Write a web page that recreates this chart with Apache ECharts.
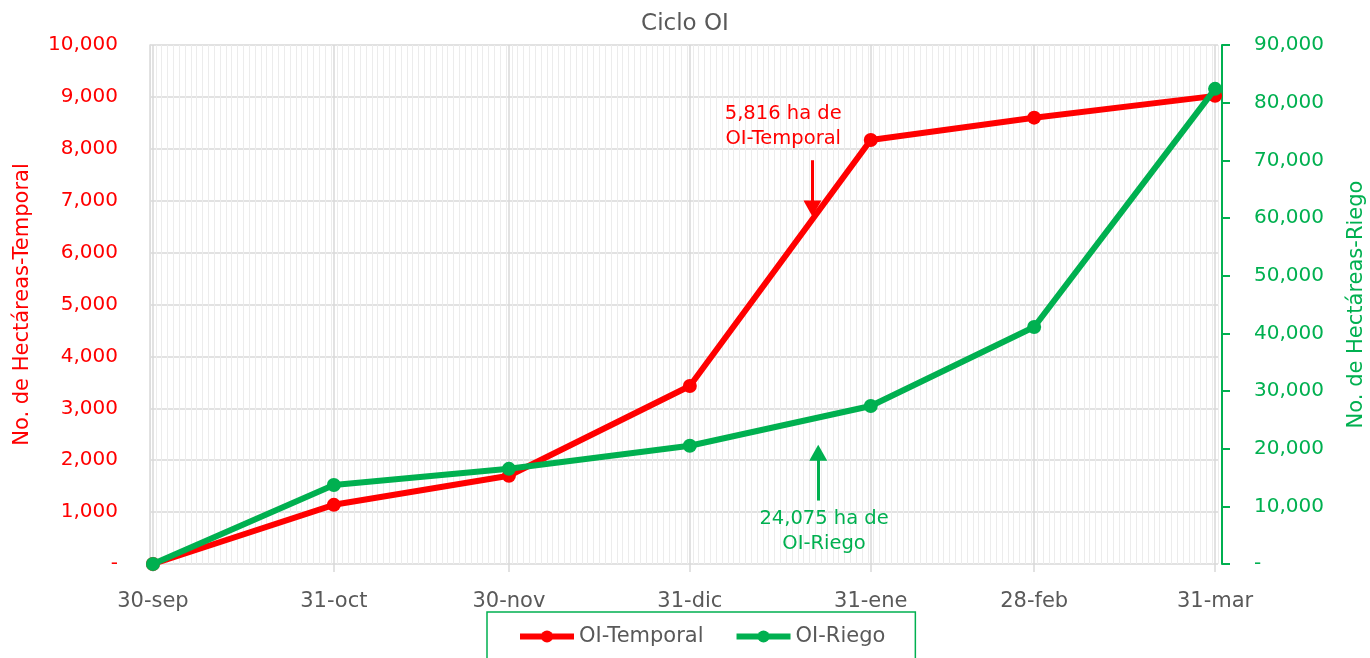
<!DOCTYPE html>
<html>
<head>
<meta charset="utf-8">
<script src="https://cdn.jsdelivr.net/npm/echarts@6/dist/echarts.min.js"></script>
<style>html,body{margin:0;padding:0;background:#fff}#c{width:1370px;height:658px}</style>
</head>
<body>
<div id="c"></div>
<script>
// Data
const categories = ['30-sep', '31-oct', '30-nov', '31-dic', '31-ene', '28-feb', '31-mar'];
const dayOffsets = [0, 31, 61, 92, 123, 151, 182];
const temporal = [0, 1140, 1700, 3430, 8170, 8600, 9020];
const riego = [0, 13700, 16500, 20500, 27400, 41100, 82400];
const leftTicks = { min: 0, max: 10000, interval: 1000 };
const rightTicks = { min: 0, max: 90000, interval: 10000 };
const noteTemporal = '5,816 ha de\nOI-Temporal';
const noteRiego = '24,075 ha de\nOI-Riego';

const RED = '#FF0000', GREEN = '#00B050', GRAY = '#595959';
const FONT = 'DejaVu Sans';
const fmt = v => v === 0 ? '-' : v.toLocaleString('en-US');

const chart = echarts.init(document.getElementById('c'), null, { renderer: 'canvas' });
chart.setOption({
  animation: false,
  textStyle: { fontFamily: FONT },
  title: {
    text: 'Ciclo OI', left: 'center', top: 8,
    textStyle: { color: GRAY, fontSize: 23, fontWeight: 'normal', fontFamily: FONT }
  },
  grid: { left: 150, right: 152, top: 45, bottom: 94, outerBoundsMode: 'none', containLabel: false },
  legend: {
    left: 487, top: 612,
    padding: [14, 30, 24, 30],
    itemGap: 30, itemWidth: 54, itemHeight: 15,
    borderColor: GREEN, borderWidth: 1.5,
    lineStyle: { width: 6 },
    textStyle: { color: GRAY, fontSize: 21, fontFamily: FONT },
    data: ['OI-Temporal', 'OI-Riego']
  },
  xAxis: [
    {
      type: 'value', min: -0.5, max: 182.5,
      axisLine: { show: false },
      axisTick: { show: true, customValues: dayOffsets, length: 8, lineStyle: { color: '#d9d9d9', width: 1.5 } },
      axisLabel: {
        customValues: dayOffsets, color: GRAY, fontSize: 21, fontFamily: FONT, margin: 27,
        formatter: v => categories[dayOffsets.indexOf(v)] || ''
      },
      splitLine: { show: true, lineStyle: { color: '#d9d9d9', width: 1.5 } },
      z: 1
    },
    {
      type: 'value', min: -0.5, max: 182.5, interval: 1, show: true,
      axisLine: { show: false }, axisTick: { show: false }, axisLabel: { show: false },
      splitLine: { show: true, lineStyle: { color: '#ececec', width: 1 } },
      z: 0
    }
  ],
  yAxis: [
    {
      type: 'value', min: leftTicks.min, max: leftTicks.max, interval: leftTicks.interval,
      name: 'No. de Hectáreas-Temporal', nameLocation: 'middle', nameGap: 117, nameRotate: 90,
      nameTextStyle: { color: RED, fontSize: 21, fontFamily: FONT },
      axisLine: { show: true, onZero: false, lineStyle: { color: '#d9d9d9', width: 1.5 } },
      axisTick: { show: false },
      axisLabel: { color: RED, fontSize: 20, fontFamily: FONT, margin: 32, formatter: fmt },
      splitLine: { show: true, lineStyle: { color: '#d9d9d9', width: 1.5 } }
    },
    {
      type: 'value', min: rightTicks.min, max: rightTicks.max, interval: rightTicks.interval,
      position: 'right', offset: 4,
      name: 'No. de Hectáreas-Riego', nameLocation: 'middle', nameGap: 124, nameRotate: 90,
      nameTextStyle: { color: GREEN, fontSize: 21, fontFamily: FONT },
      axisLine: { show: true, onZero: false, lineStyle: { color: GREEN, width: 2 } },
      axisTick: { show: true, length: 8, lineStyle: { color: GREEN, width: 2 } },
      axisLabel: { color: GREEN, fontSize: 20, fontFamily: FONT, margin: 32, formatter: fmt },
      splitLine: { show: false }
    }
  ],
  series: [
    {
      name: 'OI-Temporal', type: 'line', xAxisIndex: 0, yAxisIndex: 0,
      data: dayOffsets.map((d, i) => [d, temporal[i]]),
      symbol: 'circle', symbolSize: 14,
      lineStyle: { color: RED, width: 6 }, itemStyle: { color: RED },
      z: 3,
      markLine: {
        silent: true, symbol: ['none', 'triangle'], symbolSize: [18, 16],
        label: { show: false },
        lineStyle: { color: RED, width: 3, type: 'solid' },
        data: [[{ coord: [113, 7780] }, { coord: [113, 6850] }]]
      },
      markPoint: {
        silent: true, symbol: 'circle', symbolSize: 0,
        label: { show: true, position: 'inside', color: RED, fontSize: 19.5, fontFamily: FONT, lineHeight: 25, align: 'center', formatter: noteTemporal },
        data: [{ coord: [108, 8440] }]
      }
    },
    {
      name: 'OI-Riego', type: 'line', xAxisIndex: 0, yAxisIndex: 1,
      data: dayOffsets.map((d, i) => [d, riego[i]]),
      symbol: 'circle', symbolSize: 14,
      lineStyle: { color: GREEN, width: 6 }, itemStyle: { color: GREEN },
      z: 4,
      markLine: {
        silent: true, symbol: ['none', 'triangle'], symbolSize: [18, 16],
        label: { show: false },
        lineStyle: { color: GREEN, width: 3, type: 'solid' },
        data: [[{ coord: [114, 11000] }, { coord: [114, 19300] }]]
      },
      markPoint: {
        silent: true, symbol: 'circle', symbolSize: 0,
        label: { show: true, position: 'inside', color: GREEN, fontSize: 19.5, fontFamily: FONT, lineHeight: 25, align: 'center', formatter: noteRiego },
        data: [{ coord: [115, 5650] }]
      }
    }
  ]
});
</script>
</body>
</html>
